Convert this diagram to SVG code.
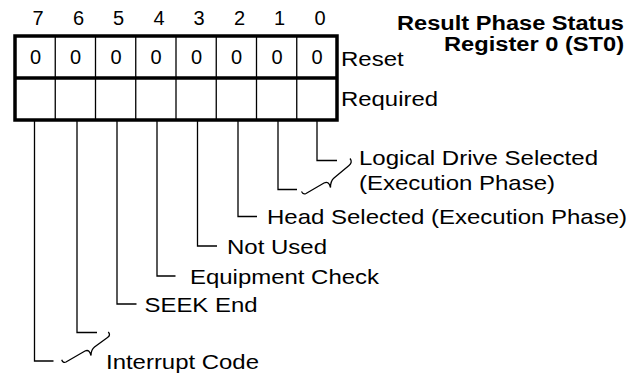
<svg xmlns="http://www.w3.org/2000/svg" width="639" height="379" viewBox="0 0 639 379">
<style>
text{font-family:"Liberation Sans",Arial,sans-serif;fill:#000}
.lbl{font-size:21px}
.dig{font-size:20px;text-anchor:middle}
.ttl{font-size:20px;font-weight:bold;text-anchor:end}
.thick{fill:none;stroke:#000;stroke-width:3.5}
.thin{fill:none;stroke:#000;stroke-width:1.3}
.lead{fill:none;stroke:#000;stroke-width:1.3}
</style>
<rect width="639" height="379" fill="#fff"/>
<g id="title">
<text class="ttl" x="624" y="30" textLength="227" lengthAdjust="spacingAndGlyphs">Result Phase Status</text>
<text class="ttl" x="624" y="51" textLength="180" lengthAdjust="spacingAndGlyphs">Register 0 (ST0)</text>
</g>
<g id="bit-numbers">
<text class="dig" x="38" y="25">7</text>
<text class="dig" x="78.5" y="25">6</text>
<text class="dig" x="118.5" y="25">5</text>
<text class="dig" x="159" y="25">4</text>
<text class="dig" x="199" y="25">3</text>
<text class="dig" x="239.5" y="25">2</text>
<text class="dig" x="279.5" y="25">1</text>
<text class="dig" x="320" y="25">0</text>
</g>
<g id="register">
<path class="thin" d="M55.25,36V120M95.5,36V120M135.75,36V120M176,36V120M216.25,36V120M256.5,36V120M296.75,36V120"/>
<rect class="thick" x="15" y="36" width="322" height="84"/>
<path class="thick" d="M15,78H337"/>
<text class="dig" x="35.5" y="64">0</text>
<text class="dig" x="75.5" y="64">0</text>
<text class="dig" x="116" y="64">0</text>
<text class="dig" x="156" y="64">0</text>
<text class="dig" x="196.5" y="64">0</text>
<text class="dig" x="236.5" y="64">0</text>
<text class="dig" x="277" y="64">0</text>
<text class="dig" x="317" y="64">0</text>
</g>
<g id="row-labels">
<text class="lbl" x="341" y="66" textLength="62.7" lengthAdjust="spacingAndGlyphs">Reset</text>
<text class="lbl" x="341" y="106" textLength="97" lengthAdjust="spacingAndGlyphs">Required</text>
</g>
<g id="connectors">
<path class="lead" d="M317,120V160.5H337"/>
<path class="lead" d="M278,120V189.5H297"/>
<path class="lead" d="M238,120V216.5H257"/>
<path class="lead" d="M197.5,120V246H217"/>
<path class="lead" d="M157,120V276H175.5"/>
<path class="lead" d="M117,120V304H136.5"/>
<path class="lead" d="M77,120V332.5H97"/>
<path class="lead" d="M34.5,120V361H53.5"/>
<path class="lead" d="M350,158.5C352,161 351.5,163.5 349,165.5L334,178C331,180.5 330.5,183 330.5,187.5C329.5,183 327.5,181.5 324,183L306,193.5C304,194.5 302.5,193.5 301.5,191.5"/>
<path class="lead" d="M108.3,332C110,334 110,336 107.5,337.5L94.5,347C92,349 91,351.5 91,355.5C90,351.5 88.5,349.5 85,351L66,362C64,363 62.5,362 61.7,359.7"/>
</g>
<g id="bit0-1-label">
<text class="lbl" x="359" y="165" textLength="239" lengthAdjust="spacingAndGlyphs">Logical Drive Selected</text>
<text class="lbl" x="359" y="190" textLength="196" lengthAdjust="spacingAndGlyphs">(Execution Phase)</text>
</g>
<g id="bit2-label"><text class="lbl" x="267" y="224" textLength="360" lengthAdjust="spacingAndGlyphs">Head Selected (Execution Phase)</text></g>
<g id="bit3-label"><text class="lbl" x="227" y="253.5" textLength="100" lengthAdjust="spacingAndGlyphs">Not Used</text></g>
<g id="bit4-label"><text class="lbl" x="190" y="283.5" textLength="189" lengthAdjust="spacingAndGlyphs">Equipment Check</text></g>
<g id="bit5-label"><text class="lbl" x="144.5" y="311.5" textLength="113" lengthAdjust="spacingAndGlyphs">SEEK End</text></g>
<g id="bit6-7-label"><text class="lbl" x="106" y="369" textLength="153" lengthAdjust="spacingAndGlyphs">Interrupt Code</text></g>
</svg>
